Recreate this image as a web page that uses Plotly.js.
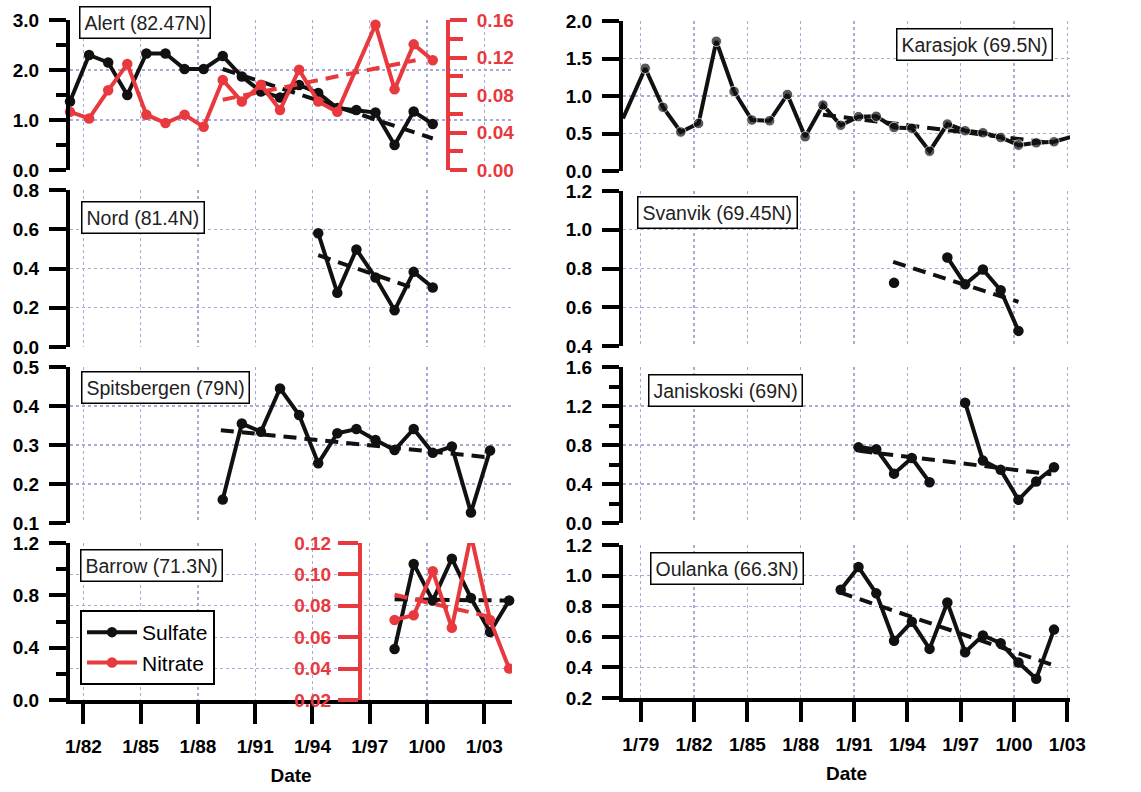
<!DOCTYPE html>
<html><head><meta charset="utf-8">
<script src="https://cdn.plot.ly/plotly-3.0.1.min.js"></script>
<style>html,body{margin:0;padding:0;background:#fff;}#chart{width:1141px;height:792px;}</style>
</head><body><div id="chart"></div><script>
// ---------------- data ----------------
const alertYears   = [1981.3,1982.3,1983.3,1984.3,1985.3,1986.3,1987.3,1988.3,1989.3,1990.3,1991.3,1992.3,1993.3,1994.3,1995.3,1996.3,1997.3,1998.3,1999.3,2000.3];
const alertSulfate = [1.37,2.30,2.15,1.50,2.33,2.33,2.02,2.02,2.28,1.87,1.57,1.45,1.70,1.54,1.24,1.20,1.15,0.50,1.17,0.92];
const alertNitrateYears = [1981.3,1982.3,1983.3,1984.3,1985.3,1986.3,1987.3,1988.3,1989.3,1990.3,1991.3,1992.3,1993.3,1994.3,1995.3,1997.3,1998.3,1999.3,2000.3];
const alertNitrate = [0.062,0.055,0.085,0.113,0.059,0.050,0.059,0.046,0.096,0.073,0.091,0.064,0.107,0.073,0.062,0.155,0.086,0.134,0.117];
const alertSulfateTrendX = [1989.3, 2000.3], alertSulfateTrendY = [2.02, 0.63];
const alertNitrateTrendX = [1989.3, 1999.4], alertNitrateTrendY = [0.075, 0.117];

const nordYears   = [1994.3,1995.3,1996.3,1997.3,1998.3,1999.3,2000.3];
const nordSulfate = [0.58,0.276,0.497,0.354,0.187,0.383,0.303];
const nordTrendX = [1994.3, 1999.5], nordTrendY = [0.468, 0.293];

const spitsYears   = [1989.3,1990.3,1991.3,1992.3,1993.3,1994.3,1995.3,1996.3,1997.3,1998.3,1999.3,2000.3,2001.3,2002.3,2003.3];
const spitsSulfate = [0.16,0.355,0.334,0.445,0.377,0.253,0.330,0.341,0.313,0.287,0.341,0.280,0.296,0.127,0.286];
const spitsTrendX = [1989.2, 2003.3], spitsTrendY = [0.338, 0.268];

const barrowYears   = [1998.3,1999.3,2000.3,2001.3,2002.3,2003.3,2004.3];
const barrowSulfate = [0.39,1.04,0.76,1.08,0.78,0.52,0.76];
const barrowNitrate = [0.071,0.074,0.102,0.066,0.125,0.071,0.040];
const barrowSulfateTrendX = [1998.3, 2004.3], barrowSulfateTrendY = [0.77, 0.76];
const barrowNitrateTrendX = [1998.3, 2003.3], barrowNitrateTrendY = [0.087, 0.073];

const karaYears   = [1978.0,1979.25,1980.25,1981.25,1982.25,1983.25,1984.25,1985.25,1986.25,1987.25,1988.25,1989.25,1990.25,1991.25,1992.25,1993.25,1994.25,1995.25,1996.25,1997.25,1998.25,1999.25,2000.25,2001.25,2002.25,2003.25];
const karaSulfate = [0.70,1.37,0.85,0.52,0.635,1.73,1.06,0.68,0.67,1.02,0.456,0.88,0.61,0.725,0.73,0.58,0.57,0.264,0.626,0.537,0.51,0.447,0.345,0.376,0.39,0.456];
const karaTrendX = [1989.25, 2002.2], karaTrendY = [0.75, 0.37];

const svanYears   = [1993.25,1994.25,1995.25,1996.25,1997.25,1998.25,1999.25,2000.25];
const svanSulfate = [0.726,null,null,0.857,0.719,0.795,0.688,0.478];
const svanTrendX = [1993.2, 2000.25], svanTrendY = [0.834, 0.628];

const janiYears   = [1991.25,1992.25,1993.25,1994.25,1995.25,1996.25,1997.25,1998.25,1999.25,2000.25,2001.25,2002.25];
const janiSulfate = [0.776,0.757,0.506,0.666,0.418,null,1.234,0.64,0.545,0.238,0.426,0.572];
const janiTrendX = [1991.3, 2002.1], janiTrendY = [0.74, 0.50];

const oulaYears   = [1990.25,1991.25,1992.25,1993.25,1994.25,1995.25,1996.25,1997.25,1998.25,1999.25,2000.25,2001.25,2002.25];
const oulaSulfate = [0.908,1.056,0.884,0.574,0.698,0.521,0.824,0.499,0.609,0.558,0.432,0.326,0.647];
const oulaTrendX = [1990.2, 2002.2], oulaTrendY = [0.89, 0.415];

const leftTickVals  = [1982,1985,1988,1991,1994,1997,2000,2003];
const leftTickText  = ['1/82','1/85','1/88','1/91','1/94','1/97','1/00','1/03'];
const rightTickVals = [1979,1982,1985,1988,1991,1994,1997,2000,2003];
const rightTickText = ['1/79','1/82','1/85','1/88','1/91','1/94','1/97','1/00','1/03'];

const stationLabels = ['Alert (82.47N)','Nord (81.4N)','Spitsbergen (79N)','Barrow (71.3N)','Karasjok (69.5N)','Svanvik (69.45N)','Janiskoski (69N)','Oulanka (66.3N)'];
const seriesNames = ['Sulfate','Nitrate'];
const xTitle = 'Date';

// ---------------- styling / layout ----------------
const W = 1141, H = 792;
const px = v => v / W, py = v => 1 - v / H;
const FONT = 'Liberation Sans, Arial, sans-serif';
const BLACK = '#111111', RED = '#e8393e', GRID = '#a9a9d6';
const LW = 4, MS = 10.5;

const LD = [px(70), px(512)], RD = [px(623), px(1070)];
const LR = [1981.3, 2004.45], RR = [1978.0, 2003.15];
const rowsL = [[20,170],[190,347],[367,523],[543,700]].map(r => [py(r[1]), py(r[0])]);
const rowsR = [[21,171],[191,346],[367,523],[545,698]].map(r => [py(r[1]), py(r[0])]);
const TICKFONT = {family: FONT, size: 19, weight: 'bold', color: '#000'};

function yAxis(domain, range, dtick, minorDtick, grid, anchor) {
  const a = {domain, range, dtick, tick0: range[0], anchor, tickformat: '.1f',
    showline: true, linecolor: '#000', linewidth: 4, mirror: false,
    ticks: 'outside', ticklen: 17, tickwidth: 4, tickcolor: '#000', ticklabelstandoff: 6,
    tickfont: TICKFONT,
    showgrid: grid, gridcolor: GRID, griddash: 'dot', gridwidth: 1.2, zeroline: false};
  if (minorDtick) a.minor = {dtick: minorDtick, tick0: range[0], ticks: 'outside', ticklen: 10, tickwidth: 4, tickcolor: '#000', showgrid: false};
  return a;
}
function xAxis(domain, range, vals, text, bottom, anchor) {
  const a = {domain, range, anchor, tickmode: 'array', tickvals: vals, ticktext: text,
    showgrid: true, gridcolor: GRID, griddash: 'dot', gridwidth: 1.2, zeroline: false};
  if (bottom) Object.assign(a, {showline: true, linecolor: '#000', linewidth: 4, ticks: 'outside',
    ticklen: 20, tickwidth: 4, tickcolor: '#000', ticklabelstandoff: 6,
    tickfont: TICKFONT,
    title: {text: xTitle, font: {family: FONT, size: 19, weight: 'bold', color: '#000'}, standoff: 14}});
  else Object.assign(a, {showline: false, ticks: '', showticklabels: false});
  return a;
}

const layout = {
  width: W, height: H, margin: {l: 0, r: 0, t: 0, b: 0}, paper_bgcolor: '#fff', plot_bgcolor: '#fff',
  showlegend: true,
  legend: {x: px(80), y: py(610), xanchor: 'left', yanchor: 'top', bordercolor: '#000', borderwidth: 2,
    bgcolor: '#fff', font: {family: FONT, size: 21, color: '#000'}, itemwidth: 50, tracegroupgap: 2},
  xaxis:  xAxis(LD, LR, leftTickVals, leftTickText, false, 'y'),
  xaxis2: xAxis(LD, LR, leftTickVals, leftTickText, false, 'y2'),
  xaxis3: xAxis(LD, LR, leftTickVals, leftTickText, false, 'y3'),
  xaxis4: xAxis(LD, LR, leftTickVals, leftTickText, true, 'y4'),
  xaxis5: xAxis(RD, RR, rightTickVals, rightTickText, false, 'y5'),
  xaxis6: xAxis(RD, RR, rightTickVals, rightTickText, false, 'y6'),
  xaxis7: xAxis(RD, RR, rightTickVals, rightTickText, false, 'y7'),
  xaxis8: xAxis(RD, RR, rightTickVals, rightTickText, true, 'y8'),
  yaxis:  yAxis(rowsL[0], [0, 3], 1, 0.5, true, 'x'),
  yaxis2: yAxis(rowsL[1], [0, 0.8], 0.2, null, true, 'x2'),
  yaxis3: yAxis(rowsL[2], [0.1, 0.5], 0.1, null, true, 'x3'),
  yaxis4: yAxis(rowsL[3], [0, 1.2], 0.4, 0.2, false, 'x4'),
  yaxis5: yAxis(rowsR[0], [0, 2], 0.5, null, true, 'x5'),
  yaxis6: yAxis(rowsR[1], [0.4, 1.2], 0.2, null, true, 'x6'),
  yaxis7: yAxis(rowsR[2], [0, 1.6], 0.4, 0.2, true, 'x7'),
  yaxis8: yAxis(rowsR[3], [0.2, 1.2], 0.2, null, true, 'x8'),
  yaxis9: {overlaying: 'y', side: 'right', anchor: 'free', position: px(448), range: [0, 0.16], dtick: 0.04, tick0: 0,
    tickformat: '.2f', showline: true, linecolor: RED, linewidth: 4, ticks: 'outside', ticklen: 17, tickwidth: 4,
    tickcolor: RED, ticklabelstandoff: 6, tickfont: Object.assign({}, TICKFONT, {color: RED}),
    showgrid: false, zeroline: false,
    minor: {dtick: 0.02, tick0: 0, ticks: 'outside', ticklen: 13, tickwidth: 4, tickcolor: RED, showgrid: false}},
  yaxis10: {overlaying: 'y4', side: 'left', anchor: 'free', position: px(360), range: [0.02, 0.12], dtick: 0.02, tick0: 0.02,
    tickformat: '.2f', showline: true, linecolor: RED, linewidth: 4, ticks: 'outside', ticklen: 20, tickwidth: 4,
    tickcolor: RED, ticklabelstandoff: 3, tickfont: Object.assign({}, TICKFONT, {color: RED}),
    showgrid: true, gridcolor: GRID, griddash: 'dot', gridwidth: 1.2, zeroline: false},
  annotations: []
};

// station label boxes (centre positions in px)
const labelCentres = [[145,22.5],[143,217],[165.5,387.5],[151,565],[974.5,45],[717.5,212],[725,390.5],[727,568.5]];
stationLabels.forEach((t, i) => {
  layout.annotations.push({text: t, xref: 'paper', yref: 'paper', x: px(labelCentres[i][0]), y: py(labelCentres[i][1]),
    xanchor: 'center', yanchor: 'middle', showarrow: false, bgcolor: '#fff', bordercolor: '#000', borderwidth: 1.5,
    borderpad: 4, font: {family: FONT, size: 19.5, color: '#222'}});
});

// ---------------- traces ----------------
const traces = [];
function series(x, y, xa, ya, color, name, legend, sizes) {
  traces.push({type: 'scatter', mode: 'lines+markers', x, y, xaxis: xa, yaxis: ya, name,
    showlegend: !!legend, legendrank: legend || 1000, cliponaxis: false, connectgaps: false,
    line: {color, width: LW}, marker: {color, size: sizes || MS}});
}
function trend(x, y, xa, ya, color) {
  traces.push({type: 'scatter', mode: 'lines', x, y, xaxis: xa, yaxis: ya, showlegend: false, hoverinfo: 'skip',
    line: {color, width: LW, dash: '13px,8px'}});
}
// Alert
trend(alertSulfateTrendX, alertSulfateTrendY, 'x', 'y', BLACK);
trend(alertNitrateTrendX, alertNitrateTrendY, 'x', 'y9', RED);
series(alertYears, alertSulfate, 'x', 'y', BLACK, seriesNames[0]);
series(alertNitrateYears, alertNitrate, 'x', 'y9', RED, seriesNames[1]);
// Nord
trend(nordTrendX, nordTrendY, 'x2', 'y2', BLACK);
series(nordYears, nordSulfate, 'x2', 'y2', BLACK, seriesNames[0]);
// Spitsbergen
trend(spitsTrendX, spitsTrendY, 'x3', 'y3', BLACK);
series(spitsYears, spitsSulfate, 'x3', 'y3', BLACK, seriesNames[0]);
// Barrow
trend(barrowSulfateTrendX, barrowSulfateTrendY, 'x4', 'y4', BLACK);
trend(barrowNitrateTrendX, barrowNitrateTrendY, 'x4', 'y10', RED);
series(barrowYears, barrowSulfate, 'x4', 'y4', BLACK, seriesNames[0], 1);
traces.push({type: 'scatter', mode: 'lines+markers', x: barrowYears, y: barrowNitrate, xaxis: 'x4', yaxis: 'y10',
  name: seriesNames[1], showlegend: true, legendrank: 2, cliponaxis: true,
  line: {color: RED, width: LW}, marker: {color: RED, size: MS}});
// Karasjok (first value is where the line enters the axis; no marker drawn there)
trend(karaTrendX, karaTrendY, 'x5', 'y5', BLACK);
series(karaYears, karaSulfate, 'x5', 'y5', BLACK, seriesNames[0], 0, karaYears.map((v, i) => i === 0 ? 0 : MS));
// Svanvik
trend(svanTrendX, svanTrendY, 'x6', 'y6', BLACK);
series(svanYears, svanSulfate, 'x6', 'y6', BLACK, seriesNames[0]);
// Janiskoski
trend(janiTrendX, janiTrendY, 'x7', 'y7', BLACK);
series(janiYears, janiSulfate, 'x7', 'y7', BLACK, seriesNames[0]);
// Oulanka
trend(oulaTrendX, oulaTrendY, 'x8', 'y8', BLACK);
series(oulaYears, oulaSulfate, 'x8', 'y8', BLACK, seriesNames[0]);

Plotly.newPlot('chart', traces, layout, {staticPlot: true, displayModeBar: false});
</script></body></html>
